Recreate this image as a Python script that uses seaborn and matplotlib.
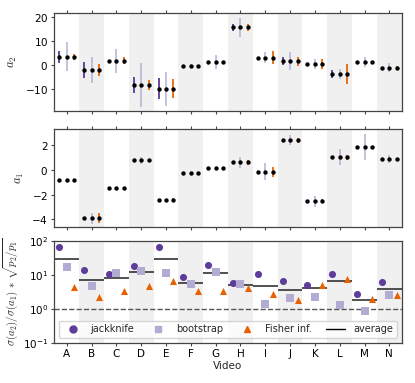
import numpy as np
import pandas as pd
import seaborn as sns
import matplotlib
matplotlib.use('Agg')
import matplotlib.pyplot as plt
from matplotlib.lines import Line2D

# data
videos = list('ABCDEFGHIJKLMN')

a2 = [3.4, -1.9, 1.8, -8.3, -9.7, -0.3, 1.4, 15.6, 3.1, 1.6, 0.5, -3.7, 1.4, -1.0]
a2_err_jack = [2.4, 3.4, 0.3, 3.3, 4.2, 0.3, 0.3, 1.5, 0.3, 1.7, 0.3, 1.8, 0.3, 0.3]
a2_err_boot = [6.0, 5.3, 5.0, 9.0, 7.0, 0.8, 2.9, 3.8, 2.3, 3.8, 2.0, 2.0, 2.0, 1.8]
a2_err_fish = [1.4, 2.5, 1.5, 2.1, 4.1, 0.3, 0.3, 1.3, 2.6, 1.8, 2.1, 4.0, 0.3, 0.5]

a1 = [-0.78, -3.9, -1.5, 0.76, -2.4, -0.27, 0.14, 0.6, -0.16, 2.4, -2.54, 1.03, 1.86, 0.87]
a1_err_jack = [0.05, 0.1, 0.05, 0.1, 0.05, 0.05, 0.05, 0.15, 0.1, 0.1, 0.1, 0.1, 0.05, 0.05]
a1_err_boot = [0.05, 0.45, 0.08, 0.3, 0.05, 0.05, 0.05, 0.42, 0.7, 0.4, 0.45, 0.62, 1.07, 0.33]
a1_err_fish = [0.08, 0.4, 0.15, 0.15, 0.12, 0.1, 0.1, 0.2, 0.4, 0.2, 0.15, 0.2, 0.1, 0.1]

ratio_jack = [66, 13.8, 10.5, 18.6, 66, 8.9, 19, 6.0, 10.5, 6.6, 5.0, 10.5, 2.75, 6.3]
ratio_boot = [17, 4.6, 11.5, 12.9, 11.5, 5.6, 12, 5.5, 1.45, 2.1, 2.3, 1.3, 0.87, 2.6]
ratio_fish = [4.4, 2.2, 3.5, 4.7, 6.8, 3.5, 3.5, 4.1, 2.7, 1.9, 5.0, 7.8, 1.95, 2.6]
ratio_avg = [30, 6.9, 8.3, 12.3, 29, 6.0, 11.7, 5.1, 4.8, 3.6, 4.2, 6.6, 1.9, 4.0]

c_jack = '#5e3c99'
c_boot = '#b2abd2'
c_fish = '#e66101'

sns.set_theme(style='ticks')
plt.rcParams.update({
    'font.family': ['DejaVu Sans'],
    'font.size': 7,
    'xtick.labelsize': 7.5,
    'ytick.labelsize': 7.5,
    'axes.labelsize': 7.5,
    'legend.fontsize': 7,
    'mathtext.fontset': 'cm',
    'axes.formatter.use_mathtext': True,
    'axes.edgecolor': '#444444',
    'xtick.color': '#444444',
    'ytick.color': '#444444',
    'xtick.labelcolor': 'black',
    'ytick.labelcolor': 'black',
    'xtick.major.size': 2.5,
    'ytick.major.size': 2.5,
    'xtick.major.width': 0.8,
    'ytick.major.width': 0.8,
    'xtick.major.pad': 2,
    'ytick.major.pad': 2,
    'axes.linewidth': 0.9,
})

fig = plt.figure(figsize=(4.15, 3.83), dpi=100)
ax_top = fig.add_axes([0.131, 0.710, 0.837, 0.255])
ax_mid = fig.add_axes([0.131, 0.408, 0.837, 0.255])
ax_bot = fig.add_axes([0.131, 0.104, 0.837, 0.267])

x = np.arange(len(videos))
off = 0.3


def shade(ax):
    for i in x[1::2]:
        ax.axvspan(i - 0.5, i + 0.5, color='#f0f0f0', zorder=0, lw=0)
    ax.set_xlim(-0.5, len(videos) - 0.5)
    ax.set_xticks(x)


def err_panel(ax, vals, ej, eb, ef, label):
    shade(ax)
    for dx, e, c, a in [(-off, ej, c_jack, 0.95), (0, eb, c_boot, 0.75), (off, ef, c_fish, 0.9)]:
        ax.errorbar(x + dx, vals, yerr=e, fmt='none', ecolor=c, elinewidth=1.4, alpha=a, zorder=2)
        df = pd.DataFrame({'x': x + dx, 'y': vals})
        sns.scatterplot(data=df, x='x', y='y', ax=ax, color='black', s=10, linewidth=0, zorder=3)
    ax.set_ylabel(label, fontsize=9, labelpad=4)
    ax.set_xlabel('')
    ax.tick_params(axis='x', top=True, labelbottom=False)


err_panel(ax_top, a2, a2_err_jack, a2_err_boot, a2_err_fish, r'$a_2$')
ax_top.set_ylim(-19, 21.4)
ax_top.set_yticks([-10, 0, 10, 20])

err_panel(ax_mid, a1, a1_err_jack, a1_err_boot, a1_err_fish, r'$a_1$')
ax_mid.set_ylim(-4.6, 3.3)
ax_mid.set_yticks([-4, -2, 0, 2])

# ratio panel
shade(ax_bot)
ax_bot.set_yscale('log')
ax_bot.set_ylim(0.1, 100)
ax_bot.axhline(1, color='#555555', ls='--', lw=1, zorder=1)
for i, v in enumerate(ratio_avg):
    ax_bot.hlines(v, i - 0.5, i + 0.5, color='#333333', lw=1.2, zorder=2)
for dx, vals, c, m in [(-off, ratio_jack, c_jack, 'o'), (0, ratio_boot, c_boot, 's'), (off, ratio_fish, c_fish, '^')]:
    df = pd.DataFrame({'x': x + dx, 'y': vals})
    sns.scatterplot(data=df, x='x', y='y', ax=ax_bot, color=c, marker=m, s=26, linewidth=0, zorder=3)
ax_bot.set_xticks(x)
ax_bot.set_xticklabels(videos, fontsize=7.5)
ax_bot.set_xlabel('Video', fontsize=7.5, labelpad=1)
ax_bot.set_ylabel(r'$\sigma(a_2)/\sigma(a_1)\,*\,\sqrt{p_2/p_1}$', fontsize=7.8, labelpad=2)
ax_bot.yaxis.set_minor_locator(matplotlib.ticker.NullLocator())

handles = [
    Line2D([], [], ls='none', marker='o', color=c_jack, markersize=5),
    Line2D([], [], ls='none', marker='s', color=c_boot, markersize=5),
    Line2D([], [], ls='none', marker='^', color=c_fish, markersize=5),
    Line2D([], [], color='black', lw=1),
]
ax_bot.legend(handles, ['jackknife', 'bootstrap', 'Fisher inf.', 'average'],
              ncol=4, mode='expand', loc='lower left', bbox_to_anchor=(0, 0, 1, 1),
              fontsize=7, frameon=True, borderaxespad=0.5, handlelength=2.0)

fig.savefig('out.png', dpi=100)
